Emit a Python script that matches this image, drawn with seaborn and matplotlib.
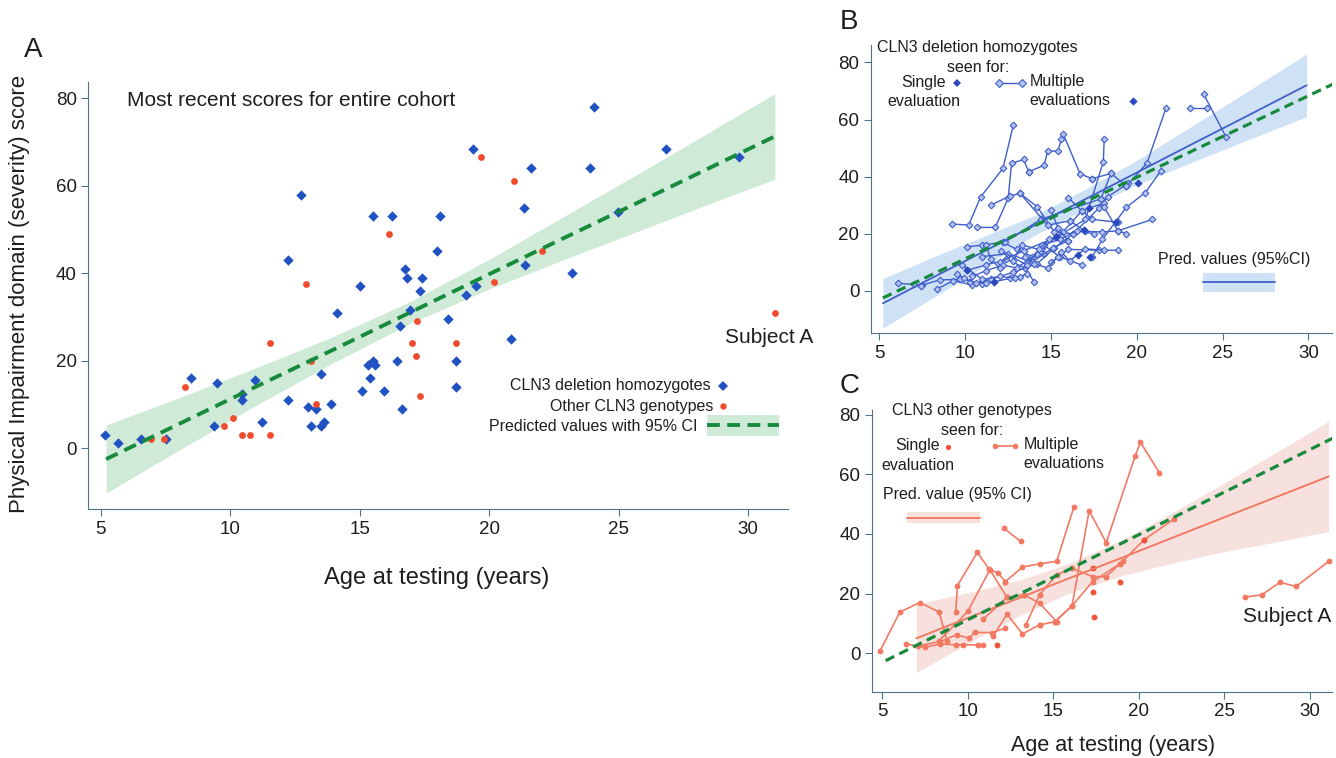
import numpy as np
import pandas as pd
import matplotlib
matplotlib.use("Agg")
import matplotlib.pyplot as plt
from matplotlib.patches import Rectangle
import seaborn as sns

# ---------------- Panel A: most recent score per subject ----------------
del_age = [5.17, 5.66, 6.54, 7.52, 8.5, 9.48, 9.38, 10.46, 10.46, 10.95, 11.24, 12.22, 12.22,
           12.71, 13.0, 13.3, 13.1, 13.5, 13.6, 13.5, 13.9, 14.1, 15.0, 15.1, 15.3, 15.6, 15.5,
           15.4, 15.5, 16.24, 15.95, 16.44, 16.64, 16.54, 16.74, 16.84, 16.93, 17.32, 17.42,
           18.0, 18.1, 18.4, 18.7, 18.7, 24.03, 19.38, 26.82, 29.66, 21.63, 23.88, 21.34, 24.96,
           21.39, 23.2, 19.12, 19.47, 20.85]
del_score = [3, 1.1, 2, 2, 16, 15, 5, 12.3, 11, 15.5, 6, 11, 43,
             58, 9.5, 9, 5, 5, 6, 17, 10, 31, 37, 13, 19, 19, 20,
             16, 53, 53, 13, 20, 9, 28, 41, 39, 31.5, 36, 39,
             45, 53, 29.5, 20, 14, 78, 68.5, 68.5, 66.5, 64, 64, 55, 54,
             42, 40, 35, 37, 25]
oth_age = [6.93, 7.42, 8.25, 9.77, 10.12, 10.46, 10.75, 11.54, 11.54, 12.91, 13.1, 13.3,
           16.14, 17.22, 17.02, 17.17, 17.32, 18.7, 19.67, 20.94, 22.02, 20.17, 31.03]
oth_score = [2, 2, 14, 5, 7, 3, 3, 3, 24, 37.5, 20, 10,
             49, 29, 24, 21, 12, 24, 66.5, 61, 45, 38, 31]

# predicted values (pooled) with 95% CI
pred_age = [5.2, 8, 11, 14, 17, 20, 23, 26, 29, 31.03]
pred_fit = [-2.5, 5.5, 14.1, 22.6, 31.2, 39.8, 48.4, 56.9, 65.5, 71.3]
pred_lo = [-10.3, -0.5, 9.8, 19.6, 28.7, 36.4, 43.4, 50.2, 57.0, 61.5]
pred_hi = [5.3, 11.5, 18.4, 25.6, 33.7, 43.2, 53.4, 63.6, 74.0, 81.1]
pooled_line_age = [5.2, 31.4]
pooled_line_score = [-2.5, 72.3]

# ---------------- Panel B: CLN3 deletion homozygotes, all evaluations ----------------
b_traj = [
    [(6.1, 2.6), (7.0, 2.2), (7.5, 1.9)],
    [(7.4, 1.8), (8.5, 3.8), (9.7, 4.0)],
    [(8.35, 0.6), (9.3, 3.5), (10.4, 2.0), (11.0, 2.5)],
    [(9.2, 23.4), (10.2, 23.0), (10.9, 32.9), (12.2, 42.9), (12.8, 58.0)],
    [(10.7, 22.2), (11.75, 22.2), (12.5, 32.4), (12.7, 44.6), (13.4, 46.0), (13.7, 41.7)],
    [(11.5, 30.0), (12.6, 33.2), (13.2, 34.1), (14.2, 29.4), (15.2, 20.5), (16.3, 20.0)],
    [(13.7, 41.7), (14.6, 44.0), (14.8, 48.9), (15.4, 49.0), (15.6, 53.0), (15.7, 55.1),
     (16.7, 40.9), (17.4, 39.3)],
    [(10.1, 15.4), (11.0, 16.0), (12.2, 17.0), (13.0, 14.5), (13.9, 12.0), (14.6, 13.0)],
    [(10.1, 7.2), (11.2, 9.0), (12.4, 11.0), (13.5, 8.0), (14.0, 3.2)],
    [(9.5, 6.0), (10.3, 3.0), (11.2, 2.6), (12.6, 4.3), (13.2, 4.9), (13.6, 6.0)],
    [(9.9, 4.5), (10.6, 2.8), (11.5, 4.0), (12.8, 6.5), (14.2, 9.5), (15.2, 15.0),
     (16.3, 20.0), (17.8, 29.0), (18.3, 32.9), (19.5, 37.6)],
    [(12.0, 10.0), (13.4, 14.0), (15.4, 19.0), (17.0, 25.0), (18.05, 45.2), (18.1, 53.0)],
    [(14.5, 15.0), (15.7, 20.7), (16.8, 28.0), (17.4, 25.0), (18.9, 24.0)],
    [(15.0, 10.0), (16.0, 14.5), (17.8, 14.2), (18.9, 14.2)],
    [(14.6, 16.0), (15.5, 11.9), (16.8, 9.0)],
    [(17.4, 11.9), (18.0, 18.0), (19.4, 29.3), (20.5, 34.4), (21.4, 42.0)],
    [(19.4, 36.7), (20.6, 44.8), (21.7, 64.0)],
    [(23.1, 64.0), (24.1, 64.0)],
    [(23.9, 68.9), (25.2, 53.9)],
    [(17.9, 32.2), (18.5, 41.1), (19.4, 36.7)],
    [(16.0, 32.6), (16.8, 28.0), (18.1, 30.8)],
    [(16.1, 24.5), (17.0, 20.8), (18.0, 20.6), (18.9, 21.0), (20.9, 25.0)],
    [(15.6, 13.5), (16.1, 10.5), (17.0, 14.7), (18.1, 14.2)],
    [(15.0, 28.4), (15.4, 22.0), (16.0, 17.5)],
    [(11.0, 12.0), (12.5, 13.0), (13.9, 10.0), (15.1, 15.0), (16.0, 17.5)],
    [(10.4, 5.0), (11.2, 7.0), (12.2, 9.0), (13.0, 8.0), (14.2, 13.0)],
    [(9.8, 9.0), (11.0, 4.0), (12.0, 5.0), (12.9, 4.5)],
    [(12.1, 14.0), (13.6, 9.0), (14.5, 16.0), (15.5, 18.0), (16.5, 21.0), (17.5, 20.0)],
    [(13.5, 12.0), (14.0, 9.5), (14.8, 8.0), (15.4, 12.0)],
    [(12.8, 10.5), (13.3, 16.0), (14.3, 14.5), (14.9, 18.0)],
    [(11.2, 16.0), (11.5, 11.0), (12.0, 8.0)],
    [(12.3, 17.0), (14.4, 25.0), (17.9, 32.2)],
    [(13.2, 34.1), (14.8, 23.0), (16.1, 24.5)],
    [(17.4, 39.3), (18.5, 41.1)],
    [(18.1, 29.3), (18.9, 21.0), (19.4, 20.0)],
]
b_single_age = [10.1, 11.7, 16.6, 16.9, 17.2, 18.8, 20.1, 19.8, 15.3, 17.3]
b_single_score = [7.2, 3.2, 12.4, 21.4, 29.0, 24.0, 37.8, 66.5, 19.0, 11.8]

b_pred_age = [5.2, 8, 11, 14, 17, 20, 23, 26, 29.9]
b_pred_fit = [-4.4, 4.3, 13.5, 22.8, 32.1, 41.4, 50.7, 59.9, 72.0]
b_pred_lo = [-13.1, -2.9, 8.1, 19.3, 28.6, 37.1, 44.5, 51.7, 61.0]
b_pred_hi = [4.3, 11.5, 18.9, 26.3, 35.6, 45.7, 56.9, 68.1, 83.0]

# ---------------- Panel C: other CLN3 genotypes, all evaluations ----------------
c_traj = [
    [(4.86, 0.6), (6.03, 13.8), (7.2, 17.0), (8.33, 13.8), (8.8, 4.0)],
    [(9.3, 13.8), (9.4, 22.7), (10.56, 33.8), (11.26, 28.2), (11.8, 26.8), (12.2, 24.0)],
    [(12.1, 42.0), (13.1, 37.5)],
    [(8.3, 4.0), (10.0, 14.0), (11.3, 28.0), (12.3, 18.7), (13.3, 19.6), (14.2, 16.8), (15.2, 10.6)],
    [(12.2, 24.0), (13.2, 28.9), (14.2, 30.0), (15.2, 30.8), (16.2, 48.9)],
    [(14.2, 9.5), (15.1, 10.6), (16.1, 15.9), (17.1, 47.8), (18.1, 37.1), (19.8, 66.3),
     (20.1, 70.8), (21.2, 60.6)],
    [(13.4, 9.5), (14.2, 19.6), (15.2, 26.3), (16.1, 28.5), (17.3, 25.7), (18.1, 25.7),
     (19.1, 31.1), (20.3, 38.0), (22.05, 45.0)],
    [(11.5, 5.8), (12.3, 13.1), (13.2, 6.5), (14.2, 9.5)],
    [(6.4, 3.1), (7.5, 2.0), (8.4, 3.1), (9.3, 2.8), (9.7, 2.8), (10.6, 2.8), (10.9, 2.8)],
    [(7.1, 2.5), (8.4, 3.9), (9.35, 6.2), (10.1, 5.0), (10.4, 7.0), (11.4, 6.9), (12.2, 8.4)],
    [(15.1, 10.6), (16.1, 15.9), (17.3, 24.0), (18.9, 30.0)],
    [(10.9, 11.4), (12.3, 18.7), (13.3, 19.6)],
    [(26.2, 18.8), (27.2, 19.6), (28.25, 23.8), (29.2, 22.4), (31.1, 30.8)],  # Subject A
]
c_single_age = [11.7, 17.3, 17.4, 18.9, 17.3, 20.3]
c_single_score = [2.8, 20.7, 12.0, 23.8, 28.6, 38.0]

c_pred_age = [7, 10, 13, 16, 19, 22, 25, 28, 31.1]
c_pred_fit = [5.0, 11.8, 18.5, 25.3, 32.0, 38.8, 45.6, 52.3, 59.3]
c_pred_lo = [-6.5, 3.3, 12.5, 20.3, 26.0, 30.3, 34.1, 37.3, 40.8]
c_pred_hi = [16.5, 20.3, 24.5, 30.3, 38.0, 47.3, 57.1, 67.3, 77.8]

# ---------------- style ----------------
sns.set_style("ticks")
plt.rcParams['font.family'] = ['Liberation Sans', 'DejaVu Sans']
SPINE = "#4d7388"
TXT = "#1e1e1e"
BLUE = "#2152c4"
RED = "#f04b2d"
GREEN = "#178a3c"
BLUE_L = "#3f5fca"
SALMON = "#f27a63"
plt.rcParams.update({
    "axes.edgecolor": SPINE, "xtick.color": SPINE, "ytick.color": SPINE,
    "xtick.labelcolor": TXT, "ytick.labelcolor": TXT, "text.color": TXT,
    "xtick.labelsize": 13.5, "ytick.labelsize": 13.5,
    "xtick.major.size": 5, "ytick.major.size": 5,
})


def to_df(traj):
    rows = []
    for i, t in enumerate(traj):
        for a, s in t:
            rows.append((i, a, s))
    return pd.DataFrame(rows, columns=["subject", "age", "score"])


def style_axes(ax, xlim, ylim):
    ax.set_xlim(*xlim)
    ax.set_ylim(*ylim)
    ax.set_xticks([5, 10, 15, 20, 25, 30])
    ax.set_yticks([0, 20, 40, 60, 80])
    sns.despine(ax=ax)
    ax.set_xlabel("")
    ax.set_ylabel("")
    ax.patch.set_alpha(0)


fig = plt.figure(figsize=(13.36, 7.58), dpi=100)
axA = fig.add_axes([0.0662, 0.3285, 0.5233, 0.5637])
axB = fig.add_axes([0.652, 0.5603, 0.345, 0.3803])
axC = fig.add_axes([0.6529, 0.0875, 0.3441, 0.3716])

# ---- A ----
axA.fill_between(pred_age, pred_lo, pred_hi, color="#cfebd8", lw=0, zorder=1)
axA.plot(pred_age, pred_fit, color=GREEN, lw=2.8, dashes=(3.3, 1.9), zorder=4)
dfA = pd.DataFrame({"age": del_age, "score": del_score})
dfO = pd.DataFrame({"age": oth_age, "score": oth_score})
sns.scatterplot(data=dfA, x="age", y="score", marker="D", s=28, color=BLUE, linewidth=0, ax=axA, zorder=3)
sns.scatterplot(data=dfO, x="age", y="score", marker="o", s=24, color=RED, linewidth=0, ax=axA, zorder=3)
style_axes(axA, (4.52, 31.52), (-13.9, 83.8))
axA.text(0.0553, 0.957, "Most recent scores for entire cohort", transform=axA.transAxes,
         fontsize=15, ha="left", va="center")
axA.text(29.1, 25.2, "Subject A", fontsize=15, ha="left", va="center", clip_on=False)
# legend
axA.text(0.8906, 0.2879, "CLN3 deletion homozygotes", transform=axA.transAxes, fontsize=11.5, ha="right", va="center")
axA.text(0.8934, 0.241, "Other CLN3 genotypes", transform=axA.transAxes, fontsize=11.5, ha="right", va="center")
axA.text(0.8705, 0.1942, "Predicted values with 95% CI", transform=axA.transAxes, fontsize=11.5, ha="right", va="center")
axA.plot([0.9077], [0.2879], "D", ms=4.6, color=BLUE, mew=0, transform=axA.transAxes, clip_on=False)
axA.plot([0.9077], [0.241], "o", ms=4.6, color=RED, mew=0, transform=axA.transAxes, clip_on=False)
axA.add_patch(Rectangle((0.8848, 0.171), 0.103, 0.049, transform=axA.transAxes,
                        color="#cfebd8", lw=0, clip_on=False))
axA.plot([0.8848, 0.9878], [0.1955, 0.1955], color=GREEN, lw=2.8, dashes=(3.3, 1.9),
         transform=axA.transAxes, clip_on=False)

# ---- B ----
dfB = to_df(b_traj)
axB.fill_between(b_pred_age, b_pred_lo, b_pred_hi, color="#cfe2f5", lw=0, zorder=1)
sns.lineplot(data=dfB, x="age", y="score", units="subject", estimator=None, sort=False,
             color=BLUE_L, lw=1.0, marker="D", markersize=3.4, markerfacecolor="#b3c2ee",
             markeredgecolor=BLUE_L, markeredgewidth=0.8, ax=axB, zorder=3)
sns.scatterplot(x=b_single_age, y=b_single_score, marker="D", s=18, color="#2a48c0", linewidth=0, ax=axB, zorder=4)
axB.plot(b_pred_age, b_pred_fit, color=BLUE_L, lw=1.3, zorder=4)
axB.plot(pooled_line_age, pooled_line_score, color=GREEN, lw=2.3, dashes=(3.0, 1.8), zorder=5)
style_axes(axB, (4.51, 31.38), (-14.9, 86.1))
fs = 11.5
axB.text(0.0124, 0.9906, "CLN3 deletion homozygotes", transform=axB.transAxes, fontsize=fs, ha="left", va="center")
axB.text(0.2328, 0.9226, "seen for:", transform=axB.transAxes, fontsize=fs, ha="center", va="center")
axB.text(0.1145, 0.8692, "Single", transform=axB.transAxes, fontsize=fs, ha="center", va="center")
axB.text(0.1145, 0.8033, "evaluation", transform=axB.transAxes, fontsize=fs, ha="center", va="center")
axB.plot([0.1872], [0.8692], "D", ms=4.2, color="#2a48c0", mew=0, transform=axB.transAxes, clip_on=False)
axB.plot([0.2783, 0.3269], [0.8666, 0.8666], "-D", color=BLUE_L, lw=1.0, ms=3.6, mfc="#b3c2ee",
         mec=BLUE_L, mew=0.8, transform=axB.transAxes, clip_on=False)
axB.text(0.3434, 0.8727, "Multiple", transform=axB.transAxes, fontsize=fs, ha="left", va="center")
axB.text(0.3434, 0.8068, "evaluations", transform=axB.transAxes, fontsize=fs, ha="left", va="center")
axB.text(0.7879, 0.2577, "Pred. values (95%CI)", transform=axB.transAxes, fontsize=fs, ha="center", va="center")
axB.add_patch(Rectangle((0.7202, 0.1443), 0.1555, 0.0638, transform=axB.transAxes, color="#cfe2f5", lw=0))
axB.plot([0.7202, 0.8757], [0.1769, 0.1769], color=BLUE_L, lw=1.3, transform=axB.transAxes)

# ---- C ----
dfC = to_df(c_traj)
axC.fill_between(c_pred_age, c_pred_lo, c_pred_hi, color="#f6e1df", lw=0, zorder=1)
sns.lineplot(data=dfC, x="age", y="score", units="subject", estimator=None, sort=False,
             color=SALMON, lw=1.2, marker="o", markersize=4.2, markeredgewidth=0,
             markeredgecolor=SALMON, ax=axC, zorder=3)
sns.scatterplot(x=c_single_age, y=c_single_score, marker="o", s=18, color="#f0553a", linewidth=0, ax=axC, zorder=4)
axC.plot(c_pred_age, c_pred_fit, color=SALMON, lw=1.4, zorder=4)
axC.plot(pooled_line_age, pooled_line_score, color=GREEN, lw=2.3, dashes=(3.0, 1.8), zorder=5)
style_axes(axC, (4.42, 31.3), (-12.9, 81.6))
axC.text(0.0422, 0.9975, "CLN3 other genotypes", transform=axC.transAxes, fontsize=fs, ha="left", va="center")
axC.text(0.2169, 0.929, "seen for:", transform=axC.transAxes, fontsize=fs, ha="center", va="center")
axC.text(0.099, 0.8722, "Single", transform=axC.transAxes, fontsize=fs, ha="center", va="center")
axC.text(0.099, 0.8047, "evaluation", transform=axC.transAxes, fontsize=fs, ha="center", va="center")
axC.plot([0.1653], [0.8676], "o", ms=3.8, color="#f0553a", mew=0, transform=axC.transAxes, clip_on=False)
axC.plot([0.2669, 0.3104], [0.8722, 0.8722], "-o", color=SALMON, lw=1.2, ms=4.0, mew=0,
         transform=axC.transAxes, clip_on=False)
axC.text(0.3285, 0.8793, "Multiple", transform=axC.transAxes, fontsize=fs, ha="left", va="center")
axC.text(0.3285, 0.8108, "evaluations", transform=axC.transAxes, fontsize=fs, ha="left", va="center")
axC.text(0.0239, 0.6983, "Pred. value (95% CI)", transform=axC.transAxes, fontsize=fs, ha="left", va="center")
axC.add_patch(Rectangle((0.0748, 0.5978), 0.1595, 0.0412, transform=axC.transAxes, color="#f6e1df", lw=0))
axC.plot([0.0748, 0.2343], [0.6177, 0.6177], color=SALMON, lw=1.4, transform=axC.transAxes)
axC.text(26.1, 12.3, "Subject A", fontsize=15, ha="left", va="center", clip_on=False)

# ---- labels ----
W, H = 1336, 758
fig.text(33 / W, 1 - 50 / H, "A", fontsize=20, ha="center", va="center")
fig.text(849 / W, 1 - 22 / H, "B", fontsize=20, ha="center", va="center")
fig.text(850 / W, 1 - 386 / H, "C", fontsize=20, ha="center", va="center")
fig.text(20 / W, 1 - 294 / H, "Physical Impairment domain (severity) score", fontsize=16,
         rotation=90, ha="center", va="center")
fig.text(437 / W, 1 - 578 / H, "Age at testing (years)", fontsize=17, ha="center", va="center")
fig.text(1113 / W, 1 - 746 / H, "Age at testing (years)", fontsize=15.5, ha="center", va="center")

fig.savefig("out.png", dpi=100, facecolor="white")
